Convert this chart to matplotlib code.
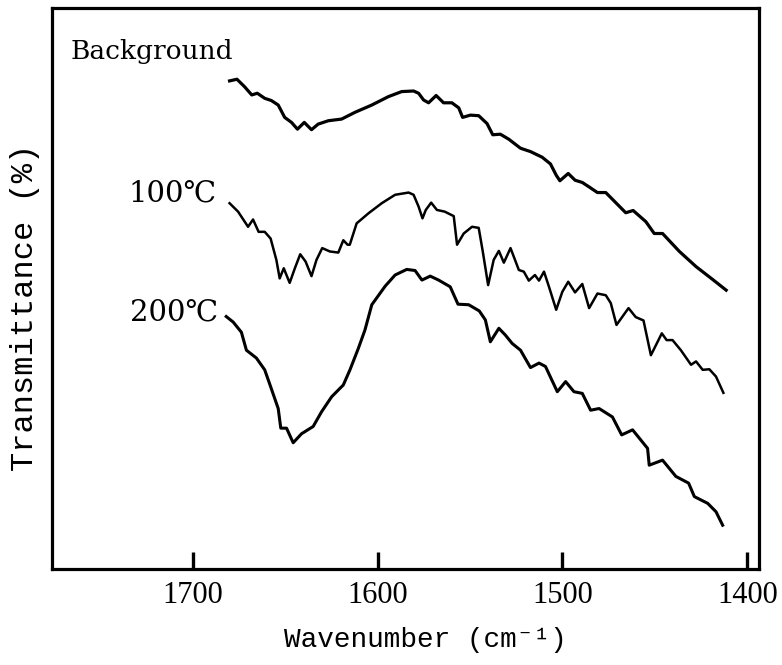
import numpy as np
import matplotlib
matplotlib.use('Agg')
import matplotlib.pyplot as plt

# IR spectra: wavenumber (cm-1) vs transmittance (arb. %)
bg_wn = [1680, 1676, 1672, 1668, 1665, 1661, 1657.4, 1653.7, 1650.2, 1646.5, 1643.3, 1639.6,
         1635.7, 1632.1, 1626.6, 1619.4, 1612.2, 1603.1, 1594.1, 1586.9, 1580.5, 1577.8,
         1575.1, 1572.4, 1568.3, 1564.3, 1559.8, 1556.1, 1554.0, 1549.8, 1545.3, 1540.8,
         1537.7, 1533.6, 1529.0, 1522.7, 1517.3, 1511.0, 1506.5, 1503.4, 1501.4, 1496.9,
         1493.2, 1489.3, 1485.6, 1481.1, 1476.6, 1472.1, 1465.8, 1461.8, 1454.9, 1450.4,
         1445.9, 1436.8, 1427.8, 1418.8, 1411.5]
bg_t = [87.0, 87.3, 86.0, 84.5, 84.8, 83.9, 83.5, 82.7, 80.5, 79.6, 78.4, 79.6,
        78.3, 79.3, 79.9, 80.2, 81.4, 82.7, 84.2, 85.1, 85.2, 84.8,
        83.6, 83.1, 84.4, 83.1, 83.1, 82.2, 80.5, 80.9, 80.8, 79.4,
        77.4, 77.5, 76.6, 75.0, 74.4, 73.4, 72.2, 70.2, 69.2, 70.5,
        69.3, 68.9, 68.1, 67.1, 67.1, 65.6, 63.5, 63.9, 61.9, 59.8,
        59.8, 56.6, 53.9, 51.6, 49.7]

t100_wn = [1680.0, 1675.4, 1670.0, 1667.3, 1664.3, 1661.0, 1657.8, 1654.7, 1652.9, 1650.7,
           1647.5, 1644.7, 1641.8, 1638.9, 1635.7, 1633.0, 1629.9, 1625.8, 1621.2, 1618.5,
           1616.2, 1615.0, 1611.3, 1604.9, 1597.7, 1590.5, 1583.2, 1580.5, 1577.8, 1575.7,
           1573.9, 1571.0, 1567.9, 1563.7, 1558.8, 1557.0, 1553.4, 1548.9, 1545.3, 1543.1,
           1540.2, 1537.2, 1534.4, 1531.7, 1528.1, 1523.6, 1520.9, 1518.2, 1514.9, 1512.7,
           1510.0, 1507.3, 1503.4, 1500.1, 1496.9, 1493.2, 1489.3, 1485.6, 1481.1, 1476.6,
           1473.9, 1470.8, 1464.3, 1460.4, 1456.2, 1452.2, 1446.3, 1443.7, 1440.5, 1436.0,
           1430.5, 1427.8, 1424.2, 1420.6, 1417.0, 1413.0]
t100_t = [65.2, 63.7, 61.0, 62.3, 60.1, 60.1, 58.9, 55.1, 51.8, 53.6,
          51.0, 53.6, 56.1, 54.8, 52.2, 55.1, 57.2, 56.6, 56.4, 58.6,
          57.8, 57.8, 61.6, 63.4, 65.2, 66.7, 67.1, 66.7, 64.6, 62.5,
          64.0, 65.3, 64.0, 63.7, 62.9, 57.8, 59.8, 61.0, 60.8, 56.6,
          50.6, 55.1, 56.7, 54.6, 57.2, 53.3, 53.0, 51.4, 52.4, 51.4,
          53.0, 50.3, 46.2, 49.4, 51.2, 49.3, 50.8, 46.5, 49.1, 48.8,
          47.4, 43.5, 46.5, 44.9, 44.3, 38.1, 42.0, 40.8, 40.8, 39.0,
          36.4, 37.0, 35.5, 35.6, 34.3, 31.4]

t200_wn = [1681.8, 1678.0, 1673.6, 1670.9, 1665.5, 1661.0, 1657.8, 1653.7, 1652.3, 1649.2,
           1645.6, 1641.1, 1634.8, 1630.3, 1624.8, 1618.5, 1614.9, 1610.4, 1606.8, 1603.1,
           1595.9, 1590.5, 1584.2, 1579.7, 1576.0, 1571.5, 1567.0, 1560.7, 1556.5, 1550.7,
           1545.0, 1541.7, 1539.0, 1534.4, 1530.9, 1527.2, 1522.7, 1517.3, 1512.7, 1509.2,
           1502.8, 1498.3, 1493.8, 1489.3, 1484.8, 1480.2, 1473.0, 1468.0, 1462.1, 1454.0,
           1453.1, 1445.9, 1438.7, 1431.8, 1428.7, 1421.5, 1417.0, 1413.4]
t200_t = [45.0, 44.0, 42.2, 39.0, 37.6, 35.5, 32.5, 28.6, 25.1, 25.1,
          22.5, 24.1, 25.4, 28.0, 30.7, 32.8, 35.5, 39.3, 42.6, 47.1,
          50.4, 52.4, 53.4, 53.2, 51.5, 52.2, 51.5, 50.3, 47.2, 47.1,
          46.0, 44.4, 40.5, 42.9, 41.7, 40.2, 39.0, 35.9, 36.7, 36.1,
          31.6, 33.4, 31.6, 31.3, 28.3, 28.6, 27.1, 23.9, 24.8, 21.5,
          18.5, 19.4, 16.5, 15.3, 12.9, 11.7, 10.2, 7.8]

labels = ['Background', '100℃', '200℃']
xticks = [1700, 1600, 1500, 1400]

fig = plt.figure(figsize=(7.82, 6.65), dpi=100)
ax = fig.add_axes([0.0665, 0.1444, 0.9035, 0.8436])

ax.plot(bg_wn, bg_t, color='k', lw=2.3, solid_joinstyle='round')
ax.plot(t100_wn, t100_t, color='k', lw=1.8, solid_joinstyle='round')
ax.plot(t200_wn, t200_t, color='k', lw=2.2, solid_joinstyle='round')

ax.set_xlim(1776, 1394)
ax.set_ylim(0, 100)

# curve labels
ax.text(1766, 92.2, labels[0], ha='left', va='center', fontsize=19,
        family=['DejaVu Serif', 'DejaVu Sans'])
ax.text(1687, 67.0, labels[1], ha='right', va='center', fontsize=21,
        family=['DejaVu Serif', 'DejaVu Sans'])
ax.text(1686, 45.8, labels[2], ha='right', va='center', fontsize=21,
        family=['DejaVu Serif', 'DejaVu Sans'])

ax.set_xticks(xticks)
ax.set_xticklabels([str(t) for t in xticks], fontsize=22, family='Liberation Serif')
ax.set_yticks([])
ax.tick_params(axis='x', direction='in', length=12, width=2.4, pad=9)

for sp in ax.spines.values():
    sp.set_linewidth(2.3)

ax.set_xlabel('Wavenumber (cm⁻¹)', fontsize=20, family=['Liberation Mono', 'DejaVu Sans Mono'])
ax.xaxis.set_label_coords(0.528, -0.127)
ax.xaxis.label.set_va('center')
ax.set_ylabel('Transmittance (%)', fontsize=23, family=['Liberation Mono', 'DejaVu Sans Mono'])
ax.yaxis.set_label_coords(-0.038, 0.467)
ax.yaxis.label.set_va('center')

fig.savefig('out.png', dpi=100)
